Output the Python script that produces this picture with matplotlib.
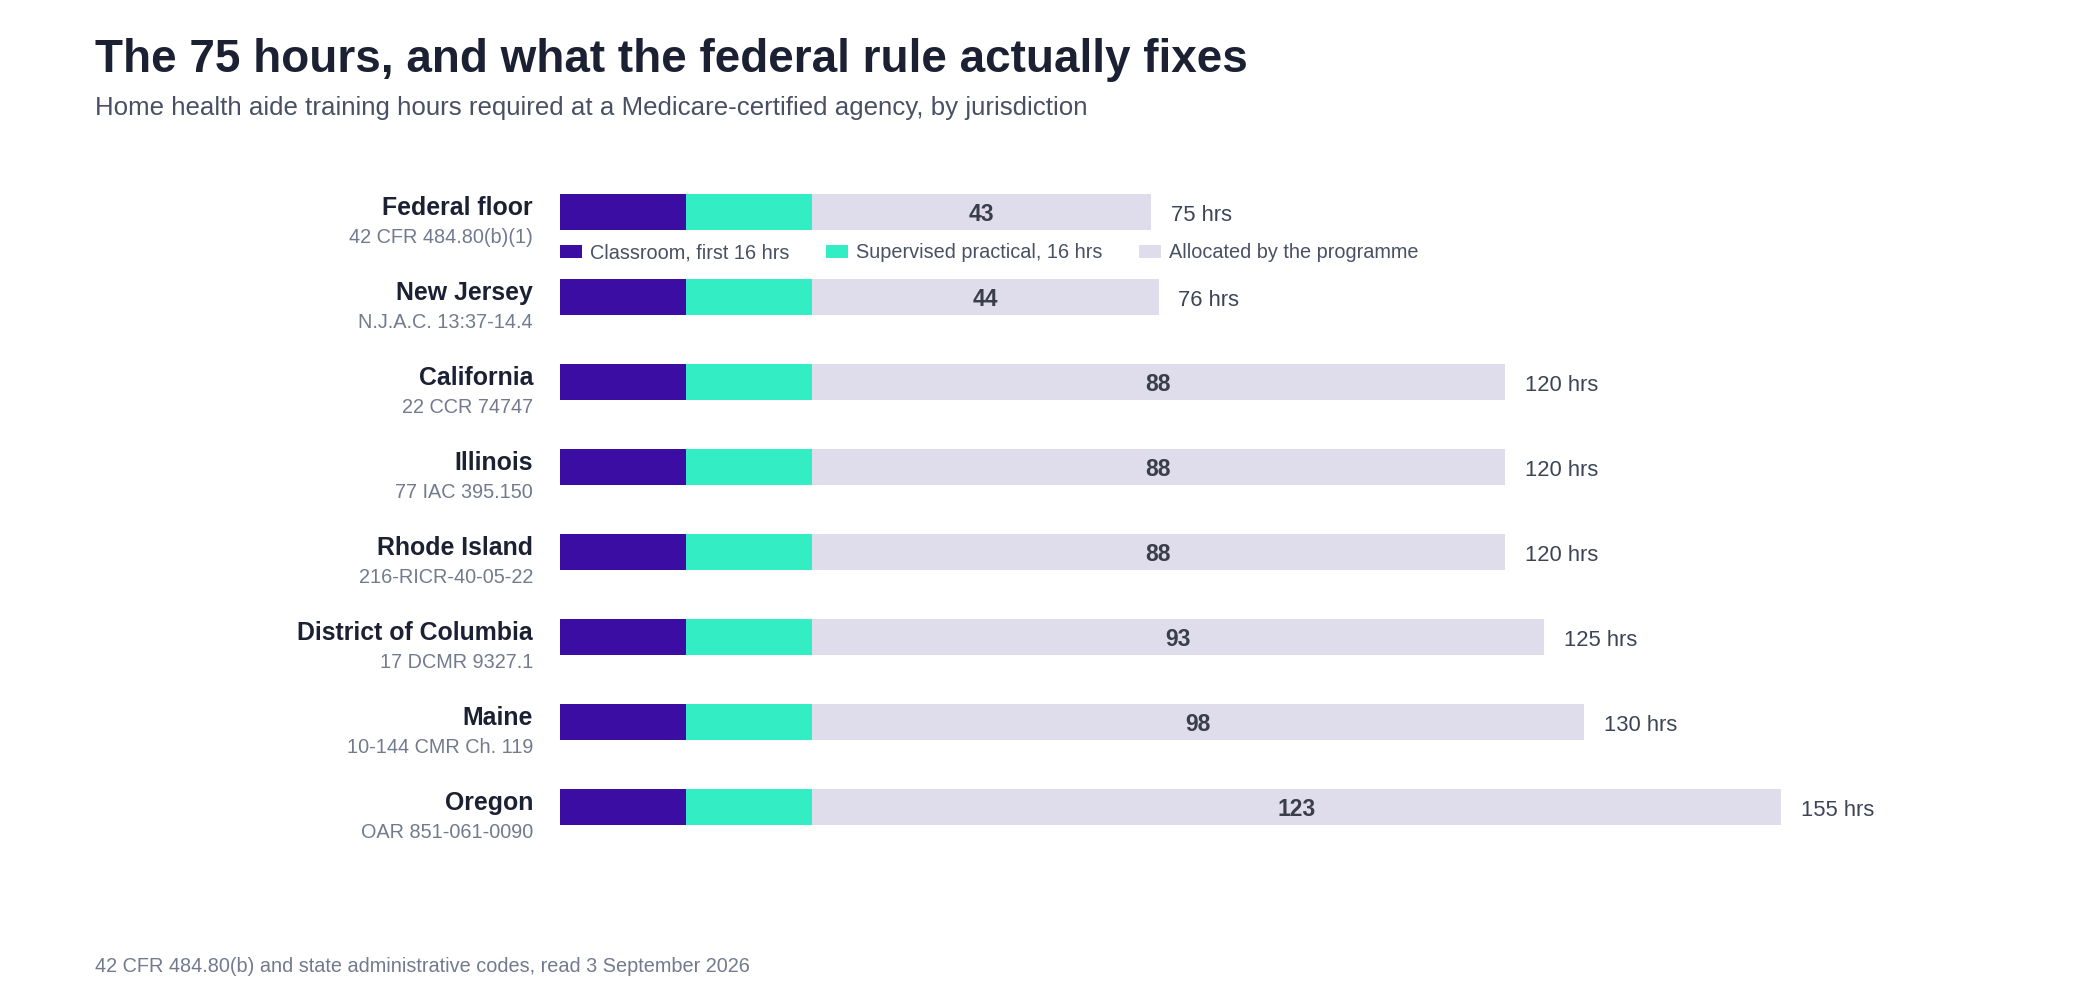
import matplotlib
matplotlib.use("Agg")
import matplotlib.pyplot as plt
from matplotlib.patches import Patch

plt.rcParams['font.family'] = ['Liberation Sans', 'DejaVu Sans']

# data
jurisdictions = ["Federal floor", "New Jersey", "California", "Illinois",
                 "Rhode Island", "District of Columbia", "Maine", "Oregon"]
codes = ["42 CFR 484.80(b)(1)", "N.J.A.C. 13:37-14.4", "22 CCR 74747",
         "77 IAC 395.150", "216-RICR-40-05-22", "17 DCMR 9327.1",
         "10-144 CMR Ch. 119", "OAR 851-061-0090"]
classroom = [16, 16, 16, 16, 16, 16, 16, 16]
practical = [16, 16, 16, 16, 16, 16, 16, 16]
allocated = [43, 44, 88, 88, 88, 93, 98, 123]
totals = [75, 76, 120, 120, 120, 125, 130, 155]
series_labels = ["Classroom, first 16 hrs", "Supervised practical, 16 hrs",
                 "Allocated by the programme"]

c_purple = "#3B0DA3"
c_teal = "#33EDC4"
c_light = "#DFDDEB"
c_dark = "#1B2033"
c_sub = "#4A5064"
c_code = "#737A8E"

fig = plt.figure(figsize=(21, 10), dpi=100)
ax = fig.add_axes([560 / 2100, 1 - 849.5 / 1000, 1260 / 2100, 680 / 1000])
ax.set_xlim(0, 160)
ax.set_ylim(7.5, -0.5)
ax.axis("off")

ypos = list(range(len(jurisdictions)))
bh = 0.418
ax.barh(ypos, classroom, height=bh, color=c_purple, linewidth=0)
ax.barh(ypos, practical, left=classroom, height=bh, color=c_teal, linewidth=0)
left2 = [a + b for a, b in zip(classroom, practical)]
ax.barh(ypos, allocated, left=left2, height=bh, color=c_light, linewidth=0)

for i in ypos:
    ax.annotate(jurisdictions[i], xy=(0, i), xytext=(-27, -3), textcoords="offset pixels",
                ha="right", va="baseline", fontsize=17.9, fontweight="bold", color=c_dark)
    ax.annotate(codes[i], xy=(0, i), xytext=(-27, -31), textcoords="offset pixels",
                ha="right", va="baseline", fontsize=14.3, color=c_code)
    ax.annotate(str(allocated[i]), xy=(left2[i] + allocated[i] / 2, i), xytext=(0, -9),
                textcoords="offset pixels", ha="center", va="baseline",
                fontsize=16.5, fontweight="bold", color="#3A3D4A")
    ax.annotate(f"{totals[i]} hrs", xy=(totals[i], i), xytext=(20, -9),
                textcoords="offset pixels", ha="left", va="baseline",
                fontsize=15.8, color="#3D4457")

handles = [Patch(facecolor=c, edgecolor="none") for c in (c_purple, c_teal, c_light)]
ax.legend(handles, series_labels, ncol=3, loc="center left",
          bbox_to_anchor=(0, 0.482), bbox_transform=ax.transData,
          frameon=False, borderpad=0, borderaxespad=0, fontsize=14.3,
          handlelength=1.1, handleheight=0.65, handletextpad=0.4,
          columnspacing=1.86, labelcolor=c_sub)

fig.text(95 / 2100, 0.928, "The 75 hours, and what the federal rule actually fixes",
         fontsize=33, fontweight="bold", color=c_dark, va="baseline", ha="left")
fig.text(95 / 2100, 0.885,
         "Home health aide training hours required at a Medicare-certified agency, by jurisdiction",
         fontsize=18.6, color=c_sub, va="baseline", ha="left")
fig.text(95 / 2100, 0.028,
         "42 CFR 484.80(b) and state administrative codes, read 3 September 2026",
         fontsize=14.3, color=c_code, va="baseline", ha="left")

fig.savefig("out.png", dpi=100, facecolor="white")
